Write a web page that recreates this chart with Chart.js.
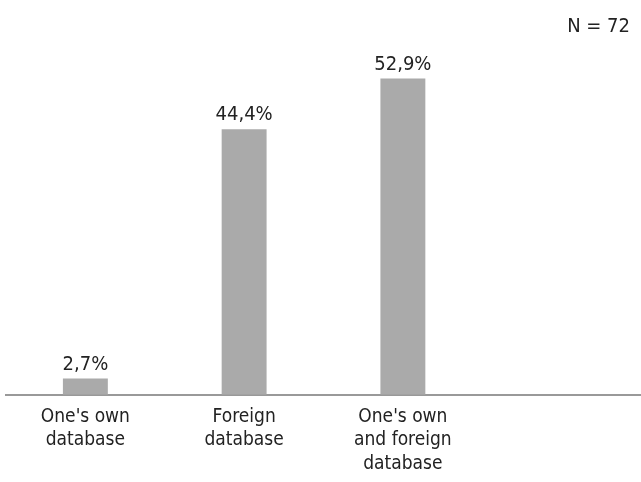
<!DOCTYPE html>
<html>
<head>
<meta charset="utf-8">
<script src="https://cdn.jsdelivr.net/npm/chart.js@4"></script>
<style>
  html, body { margin: 0; padding: 0; background: #fff; }
  #wrap { width: 641px; height: 482px; }
</style>
</head>
<body>
<div id="wrap"><canvas id="chart"></canvas></div>
<script>
const categories = [
  ["One's own", "database"],
  ["Foreign", "database"],
  ["One's own", "and foreign", "database"],
  ""
];
const shares = [2.7, 44.4, 52.9, null];
const sampleNote = "N = 72";

const FONT = "'DejaVu Sans Condensed', 'Noto Sans', sans-serif";

const labelPlugin = {
  id: "barLabels",
  afterDatasetsDraw(chart) {
    const ctx = chart.ctx;
    const meta = chart.getDatasetMeta(0);
    ctx.save();
    ctx.font = "20px " + FONT;
    ctx.fillStyle = "#222";
    ctx.textAlign = "center";
    ctx.textBaseline = "bottom";
    meta.data.forEach((bar, i) => {
      if (shares[i] == null) return;
      ctx.fillText(shares[i].toFixed(1).replace(".", ",") + "%", bar.x, bar.y - 4);
    });
    ctx.textAlign = "right";
    ctx.textBaseline = "middle";
    ctx.fillText(sampleNote, 630, 27);
    ctx.restore();
  }
};

new Chart(document.getElementById("chart"), {
  type: "bar",
  data: {
    labels: categories,
    datasets: [{
      data: shares,
      backgroundColor: "#aaaaaa",
      barPercentage: 0.283,
      categoryPercentage: 1
    }]
  },
  options: {
    responsive: true,
    maintainAspectRatio: false,
    animation: false,
    layout: { padding: { top: 36, left: 6, right: 0, bottom: 4 } },
    plugins: { legend: { display: false }, tooltip: { enabled: false } },
    scales: {
      x: {
        grid: { display: false },
        border: { color: "#999", width: 2 },
        ticks: { color: "#222", font: { family: FONT, size: 19, lineHeight: 1.25 }, padding: 2, maxRotation: 0 }
      },
      y: { display: false, min: 0, max: 60 }
    }
  },
  plugins: [labelPlugin]
});
</script>
</body>
</html>
